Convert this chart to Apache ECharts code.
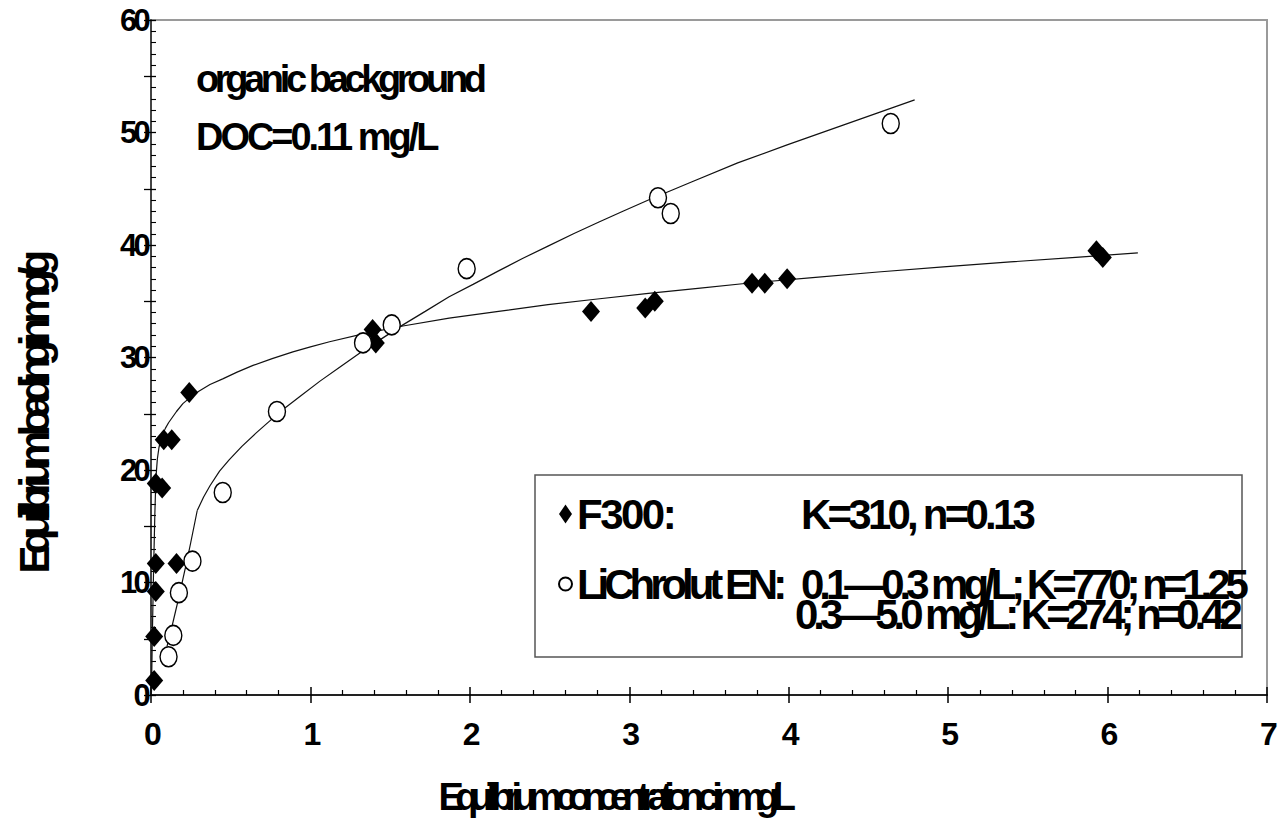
<!DOCTYPE html>
<html>
<head>
<meta charset="utf-8">
<script src="https://cdn.jsdelivr.net/npm/echarts@6/dist/echarts.min.js"></script>
<style>
  html, body { margin: 0; padding: 0; background: #fff; }
  #chart { width: 1288px; height: 820px; }
</style>
</head>
<body>
<div id="chart"></div>
<script>
// ---- data ----
const xTickValues = [0, 1, 2, 3, 4, 5, 6, 7];
const yTickLabels = [0, 10, 20, 30, 40, 50, 60];

// F300 measured points (c in mg/L, q in mg/g)
const f300Points = [
  [0.02, 1.3], [0.02, 5.2], [0.03, 9.2], [0.03, 11.7], [0.16, 11.7],
  [0.03, 18.8], [0.07, 18.4], [0.08, 22.7], [0.13, 22.7], [0.24, 26.9],
  [1.39, 32.5], [1.41, 31.3], [2.76, 34.1], [3.10, 34.4], [3.16, 35.0],
  [3.77, 36.6], [3.85, 36.6], [3.99, 37.0], [5.93, 39.5], [5.97, 38.9]
];
// LiChrolut EN measured points
const lichrolutPoints = [
  [0.11, 3.4], [0.14, 5.3], [0.175, 9.1], [0.26, 11.9], [0.45, 18.0],
  [0.79, 25.2], [1.33, 31.3], [1.51, 32.9], [1.98, 37.9], [3.18, 44.2],
  [3.26, 42.8], [4.64, 50.8]
];
// fitted curves
const f300Fit = [
  [0.003, 0.3], [0.008, 5.0], [0.012, 8.0], [0.016, 11.0], [0.02, 13.5],
  [0.024, 16.0], [0.028, 18.0], [0.033, 19.7], [0.04, 21.0], [0.05, 22.0],
  [0.06, 22.6], [0.075, 23.2], [0.09, 23.7], [0.11, 24.2], [0.13, 24.6],
  [0.16, 25.2], [0.2, 25.9], [0.25, 26.5], [0.3, 27.0], [0.37, 27.6],
  [0.45, 28.1], [0.54, 28.7], [0.64, 29.3], [0.76, 29.9], [0.89, 30.5],
  [1.0, 30.95], [1.12, 31.4], [1.33, 32.1], [1.58, 32.8], [1.87, 33.5],
  [2.18, 34.1], [2.49, 34.7], [2.8, 35.2], [3.12, 35.7], [3.43, 36.15],
  [3.74, 36.6], [4.15, 37.1], [4.56, 37.6], [4.97, 38.05], [5.39, 38.5],
  [5.8, 38.9], [6.19, 39.3]
];
const lichrolutFitLow = [
  [0.10, 4.3], [0.125, 5.7], [0.15, 7.2], [0.175, 8.7], [0.20, 10.3],
  [0.225, 11.9], [0.25, 13.6], [0.27, 15.0], [0.29, 16.4]
];
const lichrolutFitHigh = [
  [0.29, 16.4], [0.33, 17.6], [0.37, 18.6], [0.43, 19.9], [0.49, 20.9],
  [0.57, 22.1], [0.66, 23.3], [0.74, 24.3], [0.83, 25.4], [0.94, 26.6],
  [1.06, 27.9], [1.19, 29.2], [1.33, 30.6], [1.45, 31.7], [1.58, 32.9],
  [1.72, 34.1], [1.87, 35.4], [2.02, 36.5], [2.18, 37.7], [2.33, 38.8],
  [2.49, 39.9], [2.65, 41.0], [2.81, 42.05], [2.96, 43.0], [3.12, 44.0],
  [3.39, 45.6], [3.68, 47.3], [3.99, 48.9], [4.31, 50.5], [4.55, 51.7],
  [4.79, 52.9]
];

const seriesNames = ['F300:', 'LiChrolut EN:'];
const legendParams = ['K=310, n=0.13', '0.1\u20140.3 mg/L; K=770; n=1.25'];
const legendExtraLine = '0.3\u20145.0 mg/L: K=274; n=0.42';
const noteLines = ['organic background', 'DOC=0.11 mg/L'];
const xAxisTitle = 'Equilibrium concentration c in mg/L';
const yAxisTitle = 'Equilibrium loading in mg/g';

// ---- styling ----
const FONT = '"Liberation Sans", Arial, sans-serif';
const ellipsePath = 'path://M0,50a50,50 0 1,0 100,0a50,50 0 1,0 -100,0z';
const SPACING = {};
SPACING[xAxisTitle] = '-0.225em';
SPACING[yAxisTitle] = '-0.21em';
SPACING[noteLines[0]] = '-0.115em';
SPACING[noteLines[1]] = '-0.08em';
SPACING[seriesNames[0]] = '-0.06em';
SPACING[legendParams[0]] = '-0.09em';
const DEFAULT_SPACING = '-0.12em';

const chart = echarts.init(document.getElementById('chart'), null, { renderer: 'svg' });

const xBase = { type: 'value', min: 0, max: 7, interval: 1, splitLine: { show: false } };
const yBase = { type: 'value', min: 0, max: 60, interval: 5, splitLine: { show: false } };
const LEG_FONT = 42;
const lineStyle = { color: '#111', width: 1.2 };

const option = {
  backgroundColor: '#fff',
  animation: false,
  grid: { left: 151, right: 21, top: 20, bottom: 125, show: true, borderColor: '#9a9a9a', borderWidth: 2 },
  xAxis: [
    Object.assign({}, xBase, {
      position: 'bottom',
      axisLine: { show: true, onZero: false, lineStyle: { color: '#222', width: 2 } },
      axisTick: { show: true, inside: true, length: 8, lineStyle: { color: '#000', width: 1.5 } },
      minorTick: { show: true, splitNumber: 5, length: 5, lineStyle: { color: '#000', width: 1.2 } },
      axisLabel: {
        margin: 23, fontSize: 32, fontWeight: 'bold', color: '#000', fontFamily: FONT,
        formatter: v => (xTickValues.indexOf(v) >= 0 ? String(v) : '')
      }
    }),
    Object.assign({}, xBase, {
      position: 'bottom',
      axisLine: { show: false },
      axisTick: { show: true, inside: false, length: 8, lineStyle: { color: '#000', width: 1.5 } },
      axisLabel: { show: false }
    })
  ],
  yAxis: [
    Object.assign({}, yBase, {
      position: 'left',
      axisLine: { show: true, onZero: false, lineStyle: { color: '#444', width: 2 } },
      axisTick: { show: true, inside: true, length: 5, lineStyle: { color: '#000', width: 1.3 } },
      minorTick: { show: true, splitNumber: 5, length: 5, lineStyle: { color: '#000', width: 1.1 } },
      axisLabel: {
        margin: 4, fontSize: 31, fontWeight: 'bold', color: '#000', fontFamily: FONT,
        formatter: v => (yTickLabels.indexOf(v) >= 0 ? String(v) : '')
      }
    }),
    Object.assign({}, yBase, {
      position: 'left',
      axisLine: { show: false },
      axisTick: { show: true, inside: false, length: 7, lineStyle: { color: '#000', width: 1.3 } },
      axisLabel: { show: false }
    })
  ],
  legend: {
    left: 553, top: 488, orient: 'vertical',
    itemWidth: 13, itemHeight: 19, itemGap: 28,
    selectedMode: false,
    data: [
      { name: seriesNames[0], icon: 'diamond' },
      { name: seriesNames[1], icon: ellipsePath }
    ],
    formatter: name => '{a|' + name + '}{b|' + legendParams[seriesNames.indexOf(name)] + '}',
    textStyle: {
      rich: {
        a: { width: 224, fontSize: LEG_FONT, fontWeight: 'bold', fontFamily: FONT, color: '#000', lineHeight: 42 },
        b: { fontSize: LEG_FONT, fontWeight: 'bold', fontFamily: FONT, color: '#000', lineHeight: 42 }
      }
    }
  },
  graphic: [
    { type: 'rect', z: 0, shape: { x: 535, y: 475, width: 707, height: 182 },
      style: { fill: '#fff', stroke: '#555', lineWidth: 1.5 } },
    { type: 'text', z: 5, x: 795, y: 614,
      style: { text: legendExtraLine, fontSize: LEG_FONT, fontWeight: 'bold', fontFamily: FONT, fill: '#000', verticalAlign: 'middle', align: 'left' } },
    { type: 'text', z: 5, x: 196, y: 79,
      style: { text: noteLines[0], fontSize: 38, fontWeight: 'bold', fontFamily: FONT, fill: '#000', verticalAlign: 'middle', align: 'left' } },
    { type: 'text', z: 5, x: 196, y: 137,
      style: { text: noteLines[1], fontSize: 38, fontWeight: 'bold', fontFamily: FONT, fill: '#000', verticalAlign: 'middle', align: 'left' } },
    { type: 'text', z: 5, x: 613, y: 797,
      style: { text: xAxisTitle, fontSize: 38, fontWeight: 'bold', fontFamily: FONT, fill: '#000', verticalAlign: 'middle', align: 'center' } },
    { type: 'text', z: 5, x: 34, y: 416, rotation: Math.PI / 2,
      style: { text: yAxisTitle, fontSize: 42, fontWeight: 'bold', fontFamily: FONT, fill: '#000', verticalAlign: 'middle', align: 'center' } }
  ],
  series: [
    { type: 'line', name: 'F300 fit', data: f300Fit, symbol: 'none', smooth: false,
      lineStyle: lineStyle, z: 1, silent: true },
    { type: 'line', name: 'LiChrolut fit low', data: lichrolutFitLow, symbol: 'none', smooth: false,
      lineStyle: lineStyle, z: 1, silent: true },
    { type: 'line', name: 'LiChrolut fit high', data: lichrolutFitHigh, symbol: 'none', smooth: false,
      lineStyle: lineStyle, z: 1, silent: true },
    { type: 'scatter', name: seriesNames[0], data: f300Points, symbol: 'diamond', symbolSize: [18, 21],
      itemStyle: { color: '#000', opacity: 1 }, z: 3 },
    { type: 'scatter', name: seriesNames[1], data: lichrolutPoints, symbol: ellipsePath, symbolSize: [17, 20],
      itemStyle: { color: '#fff', borderColor: '#000', borderWidth: 1.5, opacity: 1 }, z: 3 }
  ]
};

chart.setOption(option);

function applySpacing() {
  document.querySelectorAll('#chart text').forEach(t => {
    const key = t.textContent;
    const v = SPACING[key] || DEFAULT_SPACING;
    if (t.style.letterSpacing !== v) t.style.letterSpacing = v;
  });
}
applySpacing();
chart.on('finished', applySpacing);
chart.on('rendered', applySpacing);
setTimeout(applySpacing, 50);
</script>
</body>
</html>
